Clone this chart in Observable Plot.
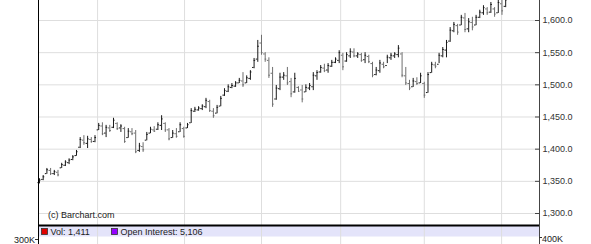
<!DOCTYPE html>
<html><head><meta charset="utf-8">
<script src="https://cdn.jsdelivr.net/npm/d3@7"></script>
<script src="https://cdn.jsdelivr.net/npm/@observablehq/plot@0.6"></script>
<style>html,body{margin:0;padding:0;background:#fff}svg{display:block}</style>
</head><body><div id="chart"></div>
<script>
// Daily OHLC bars
const highs = [1354,1359,1370,1370,1367,1367,1378,1382,1385,1390,1398,1418,1421,1420,1418,1421,1440,1441,1437,1437,
1448,1441,1438,1434,1432,1432,1429,1409,1410,1426,1434,1435,1441,1452,1441,1432,1429,1432,1441,1434,
1440,1463,1465,1466,1469,1479,1476,1463,1468,1482,1494,1500,1502,1505,1510,1519,1514,1522,1541,1569,
1577,1550,1542,1527,1499,1518,1519,1527,1510,1518,1497,1499,1500,1502,1519,1522,1530,1532,1533,1538,
1542,1553,1549,1550,1556,1556,1550,1549,1550,1546,1535,1527,1538,1535,1546,1549,1550,1561,1550,1527,
1507,1510,1511,1518,1504,1519,1535,1535,1549,1558,1569,1589,1597,1594,1608,1611,1603,1605,1608,1616,
1623,1620,1628,1620,1633,1632,1636];
const lows = [1346,1351,1361,1359,1359,1357,1370,1373,1376,1382,1389,1401,1406,1401,1409,1410,1429,1421,1418,1426,
1432,1429,1426,1409,1417,1421,1393,1395,1395,1413,1424,1426,1429,1429,1426,1413,1417,1417,1426,1417,
1432,1440,1457,1459,1460,1463,1457,1448,1455,1466,1482,1488,1494,1496,1502,1496,1502,1507,1525,1535,
1546,1535,1510,1465,1476,1491,1507,1499,1480,1487,1488,1472,1488,1491,1491,1507,1518,1519,1518,1527,
1533,1533,1522,1535,1541,1542,1541,1535,1533,1533,1511,1514,1518,1525,1533,1538,1541,1542,1511,1499,
1491,1496,1499,1502,1479,1487,1518,1525,1533,1542,1542,1566,1581,1577,1592,1581,1581,1584,1592,1603,
1608,1608,1611,1605,1611,1608,1620];
const opens = [1348,1353,1362,1367,1362,1364,1371,1375,1379,1384,1390,1403,1414,1409,1415,1412,1430,1436,1425,1433,
1434,1440,1433,1432,1418,1427,1425,1398,1404,1414,1425,1430,1431,1437,1440,1430,1418,1424,1427,1432,
1433,1441,1459,1461,1463,1466,1474,1459,1456,1467,1484,1490,1496,1498,1503,1506,1503,1510,1527,1540,
1565,1548,1538,1518,1478,1494,1512,1514,1505,1489,1496,1492,1489,1495,1497,1514,1520,1526,1523,1529,
1535,1538,1546,1537,1545,1551,1545,1547,1539,1544,1533,1516,1522,1532,1530,1542,1545,1547,1548,1514,
1502,1497,1505,1503,1502,1488,1519,1531,1532,1545,1554,1568,1584,1592,1593,1604,1587,1597,1593,1605,
1612,1618,1613,1618,1612,1626,1622];
const closes = [1352,1357,1368,1362,1365,1360,1376,1380,1383,1388,1396,1415,1410,1416,1412,1418,1437,1424,1434,1429,
1445,1432,1436,1412,1428,1424,1396,1405,1399,1423,1431,1428,1438,1447,1430,1416,1425,1420,1438,1420,
1438,1460,1462,1464,1467,1476,1460,1452,1465,1479,1491,1497,1499,1503,1507,1500,1511,1520,1538,1560,
1550,1540,1515,1470,1495,1512,1515,1503,1486,1510,1490,1478,1496,1499,1515,1519,1527,1522,1530,1535,
1540,1550,1528,1547,1552,1545,1548,1538,1546,1536,1515,1523,1534,1528,1543,1546,1548,1557,1515,1503,
1495,1506,1502,1514,1484,1516,1532,1529,1546,1555,1566,1585,1594,1582,1605,1586,1598,1590,1605,1613,
1620,1612,1625,1610,1628,1615,1632];

// Price axis ticks (right) and month gridline positions (bar index)
const priceTicks = [1300, 1350, 1400, 1450, 1500, 1550, 1600];
const monthStarts = [15.7, 39.2, 60, 81.4, 104, 124.9];
const copyright = "(c) Barchart.com";
const legendLabels = ["Vol: 1,411", "Open Interest: 5,106"];
const legendColors = ["#e00000", "#9400ff"];
const volLeftLabel = "300K";
const volRightLabel = "400K";

const bars = highs.map((h, i) => ({i, high: h, low: lows[i], open: opens[i], close: closes[i]}));
const barColor = d => d.close < d.open ? "#6e6e6e" : "#1a1a1a";

const xDomain = [-0.27, 135.14];
const font = "'Liberation Sans', Arial, sans-serif";

const chart = Plot.plot({
  width: 591, height: 244,
  marginLeft: 38, marginRight: 52, marginTop: 0, marginBottom: 0,
  style: {fontFamily: font, fontSize: "9px", background: "#fff", color: "#333"},
  x: {domain: xDomain, axis: null},
  y: {domain: [1251.8, 1631.1], axis: null},
  marks: [
    Plot.ruleY(priceTicks, {stroke: "#dedede"}),
    Plot.ruleX(monthStarts, {stroke: "#dedede"}),
    Plot.ruleX(bars, {x: "i", y1: "low", y2: "high", stroke: barColor, strokeWidth: 1}),
    Plot.ruleY(bars, {y: "open", x1: d => d.i - 0.42, x2: "i", stroke: barColor, strokeWidth: 1}),
    Plot.ruleY(bars, {y: "close", x1: "i", x2: d => d.i + 0.42, stroke: barColor, strokeWidth: 1}),
    Plot.axisY(priceTicks, {anchor: "right", tickSize: 5, dx: -5, tickPadding: 3,
      tickFormat: d3.format(",.1f"), label: null, stroke: "#444", fill: "#333"}),
    Plot.ruleX([xDomain[0]], {stroke: "#000"}),
    Plot.ruleX([xDomain[1]], {stroke: "#444"})
  ]
});

const svg = d3.select(chart);
const xs = chart.scale("x");
const left = xs.apply(xDomain[0]), right = xs.apply(xDomain[1]);

// lavender legend band, drawn beneath the grid lines
svg.insert("rect", "g").attr("x", left).attr("y", 226).attr("width", right - left).attr("height", 10.5)
  .attr("fill", "#e4e4fa");
// panel separator
svg.append("line").attr("x1", left).attr("x2", right).attr("y1", 225.5).attr("y2", 225.5)
  .attr("stroke", "#000").attr("stroke-width", 2);

const t = svg.append("g").attr("font-family", font).attr("font-size", 9).attr("fill", "#222")
  .attr("text-anchor", "start");
t.append("text").attr("x", 48).attr("y", 218).text(copyright);
const legX = [41.5, 111.5];
legendLabels.forEach((lab, k) => {
  t.append("rect").attr("x", legX[k]).attr("y", 228.5).attr("width", 6).attr("height", 6)
    .attr("fill", legendColors[k]).attr("stroke", "#333").attr("stroke-width", 0.8);
  t.append("text").attr("x", legX[k] + 9).attr("y", 234.5).text(lab);
});
t.append("text").attr("x", 35).attr("y", 243).attr("text-anchor", "end").text(volLeftLabel);
t.append("text").attr("x", 542).attr("y", 242).text(volRightLabel);
svg.append("line").attr("x1", 35).attr("x2", left).attr("y1", 239.5).attr("y2", 239.5).attr("stroke", "#333");
svg.append("line").attr("x1", right).attr("x2", right + 3).attr("y1", 237.5).attr("y2", 237.5).attr("stroke", "#333");

document.getElementById("chart").append(chart);
</script>
</body></html>
